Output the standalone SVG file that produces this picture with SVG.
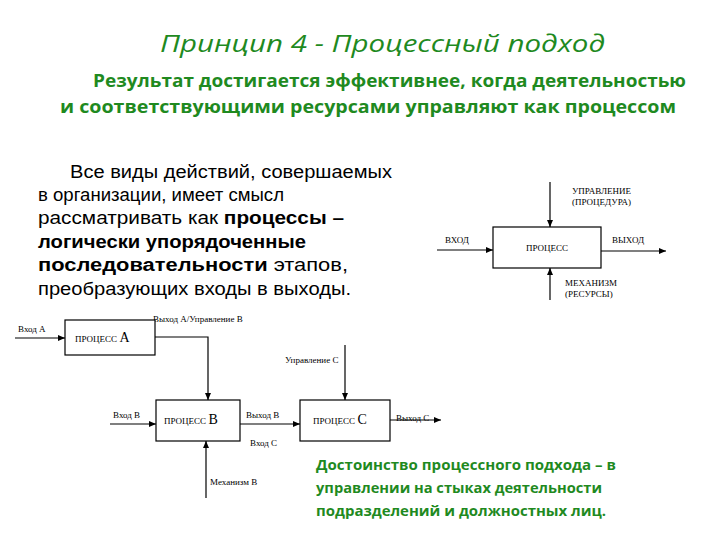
<svg xmlns="http://www.w3.org/2000/svg" width="720" height="540" viewBox="0 0 720 540">
<defs>
<marker id="ah" markerWidth="8" markerHeight="8" refX="7" refY="4" orient="auto" markerUnits="userSpaceOnUse"><path d="M0,1 L7,4 L0,7 Z" fill="#000"/></marker>
<style>
.g{fill:#1f8a1f;font-family:"Open Sans","Liberation Sans",sans-serif}
.b{font-family:"Liberation Sans",Arial,sans-serif;font-size:17.5px;fill:#000}
.s{font-family:"Liberation Serif",serif;font-size:9px;fill:#000}
.box{fill:#fff;stroke:#000;stroke-width:1.2}
.ar{fill:none;stroke:#000;stroke-width:1.2;marker-end:url(#ah)}
</style>
</defs>
<rect width="720" height="540" fill="#fff"/>
<text class="g" x="160" y="52" font-size="24" font-style="italic" textLength="445" lengthAdjust="spacingAndGlyphs">Принцип 4 - Процессный подход</text>
<text class="g" x="93" y="87" font-size="17" font-weight="bold" textLength="593" lengthAdjust="spacingAndGlyphs">Результат достигается эффективнее, когда деятельностью</text>
<text class="g" x="60" y="113" font-size="17" font-weight="bold" textLength="616" lengthAdjust="spacingAndGlyphs">и соответствующими ресурсами управляют как процессом</text>
<g id="body">
<text class="b" x="70" y="178" textLength="322" lengthAdjust="spacingAndGlyphs">Все виды действий, совершаемых</text>
<text class="b" x="38" y="201" textLength="246" lengthAdjust="spacingAndGlyphs">в организации, имеет смысл</text>
<text class="b" x="38" y="224" textLength="306" lengthAdjust="spacingAndGlyphs">рассматривать как <tspan font-weight="bold">процессы –</tspan></text>
<text class="b" x="38" y="248" font-weight="bold" textLength="268" lengthAdjust="spacingAndGlyphs">логически упорядоченные</text>
<text class="b" x="38" y="271" textLength="310" lengthAdjust="spacingAndGlyphs"><tspan font-weight="bold">последовательности</tspan> этапов,</text>
<text class="b" x="38" y="295" textLength="313" lengthAdjust="spacingAndGlyphs">преобразующих входы в выходы.</text>
</g>
<g id="connectors">
<path class="ar" d="M550,182 V227"/>
<path class="ar" d="M550,300 V268"/>
<path class="ar" d="M437,250 H493"/>
<path class="ar" d="M601,251 H666"/>
<path class="ar" d="M15,338 H65"/>
<path class="ar" d="M155,337 H208 V400"/>
<path class="ar" d="M110,424 H156"/>
<path class="ar" d="M206,498 V441"/>
<path class="ar" d="M240,424 H300"/>
<path class="ar" d="M345,345 V400"/>
<path class="ar" d="M390,420 H441"/>
</g>
<g id="legend-text">
<text class="s" x="572" y="194">УПРАВЛЕНИЕ</text>
<text class="s" x="572" y="205">(ПРОЦЕДУРА)</text>
<text class="s" x="445" y="243">ВХОД</text>
<text class="s" x="612" y="243">ВЫХОД</text>
<text class="s" x="565" y="286">МЕХАНИЗМ</text>
<text class="s" x="565" y="297">(РЕСУРСЫ)</text>
<text class="s" x="153" y="322">Выход А/Управление В</text>
<text class="s" x="18" y="332">Вход А</text>
<text class="s" x="285" y="363">Управление С</text>
<text class="s" x="113" y="418">Вход В</text>
<text class="s" x="246" y="418">Выход В</text>
<text class="s" x="250" y="446">Вход С</text>
<text class="s" x="396" y="421">Выход С</text>
<text class="s" x="210" y="485">Механизм В</text>
</g>
<g id="proc"><rect class="box" x="493" y="227" width="108" height="41"/><text class="s" x="547" y="251" text-anchor="middle">ПРОЦЕСС</text></g>
<g id="procA"><rect class="box" x="65" y="320" width="90" height="35"/><text class="s" x="75" y="342">ПРОЦЕСС <tspan font-size="14">А</tspan></text></g>
<g id="procB"><rect class="box" x="156" y="400" width="84" height="41"/><text class="s" x="164" y="424">ПРОЦЕСС <tspan font-size="14">В</tspan></text></g>
<g id="procC"><rect class="box" x="300" y="400" width="90" height="41"/><text class="s" x="313" y="424">ПРОЦЕСС <tspan font-size="14">С</tspan></text></g>
<g id="note">
<text class="g" x="316" y="470" font-size="13.5" font-weight="bold" textLength="300" lengthAdjust="spacingAndGlyphs">Достоинство процессного подхода – в</text>
<text class="g" x="316" y="493" font-size="13.5" font-weight="bold" textLength="286" lengthAdjust="spacingAndGlyphs">управлении на стыках деятельности</text>
<text class="g" x="316" y="516" font-size="13.5" font-weight="bold" textLength="290" lengthAdjust="spacingAndGlyphs">подразделений и должностных лиц.</text>
</g>
</svg>
